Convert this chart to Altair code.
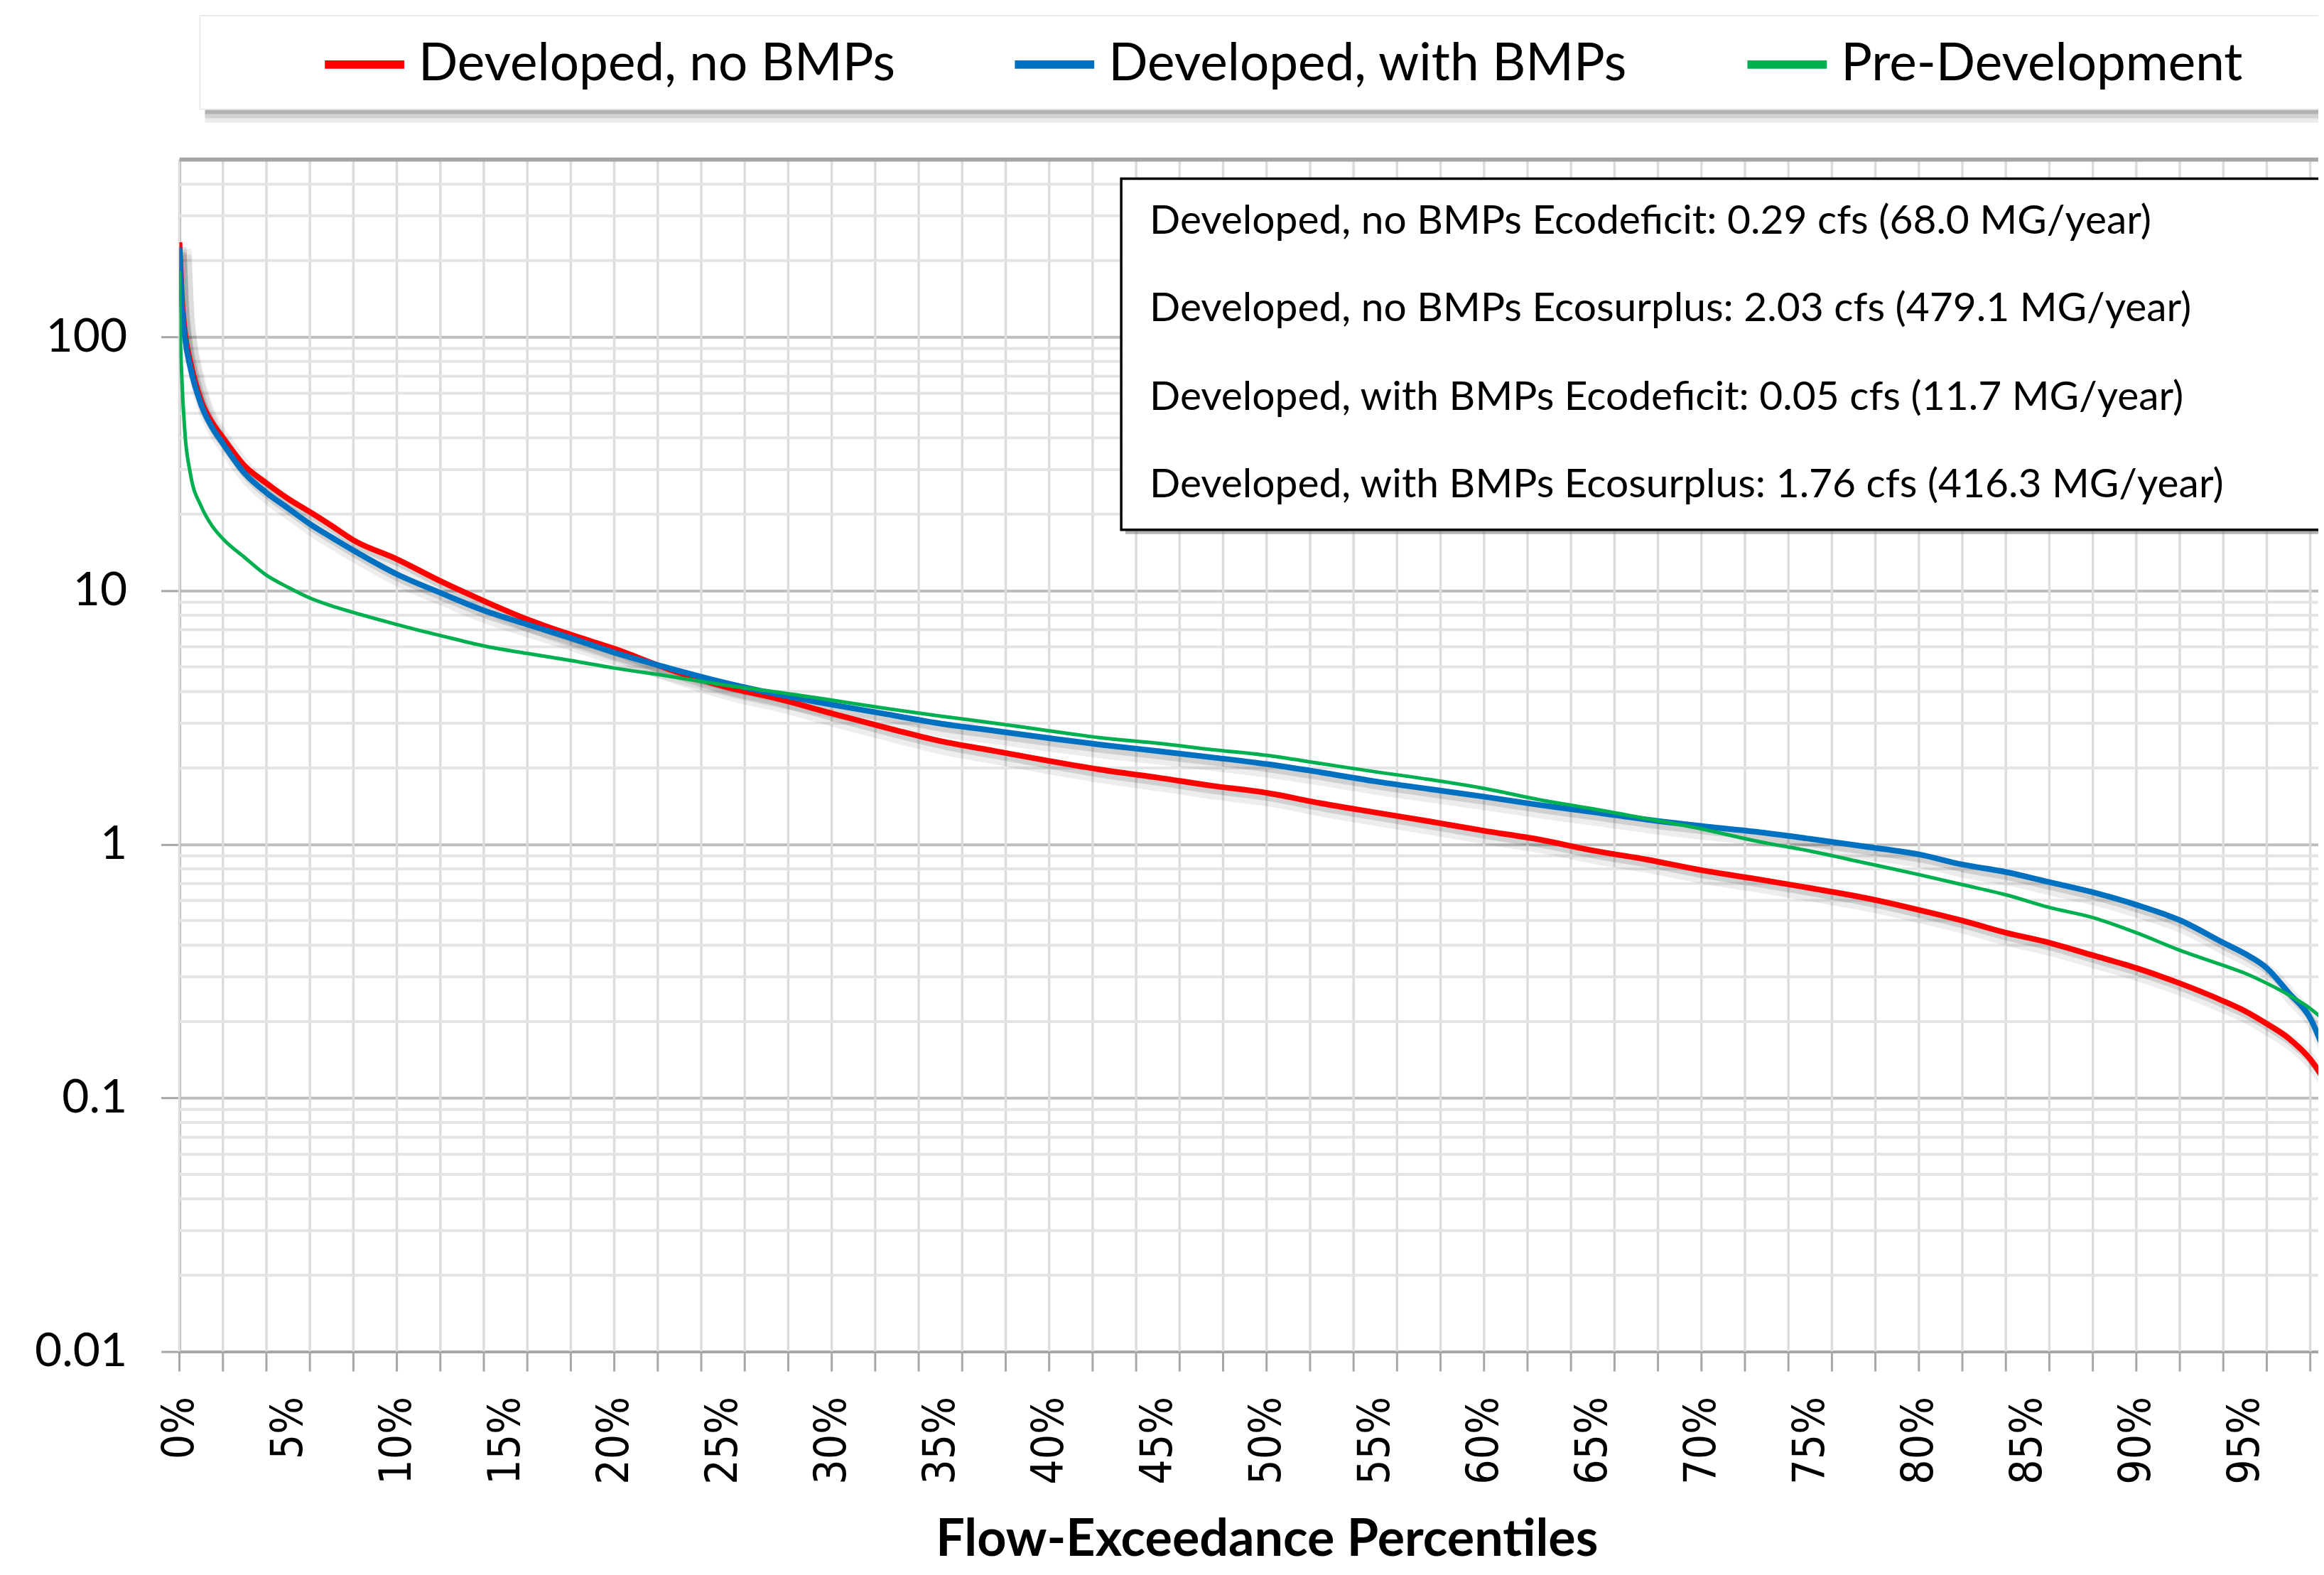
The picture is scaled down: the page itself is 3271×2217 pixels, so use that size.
import altair as alt
import pandas as pd

# ---------------- data ----------------
SERIES = ["Developed, no BMPs", "Developed, with BMPs", "Pre-Development"]
COLORS = ["#FF0000", "#0070C0", "#00B050"]

PCT = [0, 0.05, 0.1, 0.25, 0.5,
       1, 1.5, 2, 3, 4, 5, 6, 7, 8,
       10, 12, 14, 16, 18, 20,
       22.5, 25, 27.5, 30, 32.5, 35, 37.5, 40, 42.5, 45, 47.5, 50,
       52.5, 55, 57.5, 60, 62.5, 65, 67.5, 70, 72.5, 75, 77.5, 80,
       82, 84, 86, 88, 90, 92, 94, 95, 96, 97, 98, 98.7]

RED = [236, 190, 150, 105, 80,
       56, 46, 40, 31, 26.5, 23, 20.4, 18, 15.8,
       13.3, 10.9, 9.1, 7.7, 6.7, 5.9,
       4.9, 4.2, 3.75, 3.28, 2.88, 2.55, 2.33, 2.13, 1.96, 1.83, 1.70, 1.595,
       1.45, 1.335, 1.23, 1.13, 1.045, 0.945, 0.87, 0.79, 0.73, 0.672, 0.615, 0.551,
       0.50, 0.448, 0.409, 0.365, 0.325, 0.283, 0.241, 0.22, 0.196, 0.172, 0.142, 0.116]

BLUE = [225, 180, 140, 100, 76,
        54, 44, 38, 29, 24.3, 21.1, 18.3, 16.2, 14.4,
        11.6, 9.8, 8.35, 7.35, 6.5, 5.7,
        4.95, 4.35, 3.9, 3.55, 3.26, 2.99, 2.80, 2.62, 2.46, 2.33, 2.2, 2.07,
        1.92, 1.77, 1.65, 1.54, 1.43, 1.34, 1.25, 1.18, 1.12, 1.05, 0.98, 0.912,
        0.832, 0.777, 0.709, 0.647, 0.577, 0.502, 0.409, 0.37, 0.325, 0.26, 0.206, 0.149]

GREEN = [182, 95, 72, 42, 29,
         21.5, 18, 16, 13.5, 11.5, 10.3, 9.35, 8.7, 8.2,
         7.35, 6.65, 6.05, 5.65, 5.3, 4.95,
         4.6, 4.25, 3.98, 3.7, 3.43, 3.2, 3.0, 2.8, 2.62, 2.5, 2.36, 2.24,
         2.08, 1.93, 1.8, 1.66, 1.5, 1.38, 1.26, 1.15, 1.03, 0.94, 0.845, 0.759,
         0.693, 0.632, 0.563, 0.514, 0.448, 0.382, 0.333, 0.31, 0.283, 0.255, 0.225, 0.201]

X_LABEL_VALUES = list(range(0, 100, 5))
X_GRID_VALUES = list(range(0, 100, 2))
Y_LABEL_VALUES = [0.01, 0.1, 1, 10, 100]
Y_MINOR_VALUES = [m * 10.0 ** k for k in range(-2, 2) for m in range(2, 10)] + [200, 300, 400]
Y_MIN, Y_MAX = 0.01, 500

X_TITLE = "Flow-Exceedance Percentiles"
NOTES = [
    "Developed, no BMPs Ecodeficit: 0.29 cfs (68.0 MG/year)",
    "Developed, no BMPs Ecosurplus: 2.03 cfs (479.1 MG/year)",
    "Developed, with BMPs Ecodeficit: 0.05 cfs (11.7 MG/year)",
    "Developed, with BMPs Ecosurplus: 1.76 cfs (416.3 MG/year)",
]

# ---------------- layout ----------------
W, H = 3016, 1681
X_MAX = 98.37
PAD = {"left": 245, "top": 215, "right": 0, "bottom": 300}
CAL = "Lato"

rows = []
for name, vals in zip(SERIES, [RED, BLUE, GREEN]):
    for p, v in zip(PCT, vals):
        rows.append({"pct": p, "flow": v, "series": name})
df = pd.DataFrame(rows)

x_scale = alt.Scale(domain=[0, X_MAX], nice=False, zero=False)
y_scale = alt.Scale(type="log", domain=[Y_MIN, Y_MAX], nice=False)
color_scale = alt.Scale(domain=SERIES, range=COLORS)

x_axis = alt.Axis(
    values=X_LABEL_VALUES, labelExpr="datum.value + '%'", labelAngle=270,
    labelFont="DejaVu Sans Condensed", labelFontSize=62, labelColor="#000000",
    labelPadding=63, labelFlush=False, labelOverlap=False,
    ticks=False, grid=False, domainColor="#A6A6A6", domainWidth=4,
    title=X_TITLE, titleFont=CAL, titleFontSize=72, titleFontWeight="bold",
    titleColor="#000000", titleX=1533, titleY=287, titleBaseline="alphabetic",
)
y_axis = alt.Axis(
    values=Y_LABEL_VALUES, format="~g", labelFont=CAL, labelFontSize=66,
    labelColor="#000000", labelPadding=48, labelFlush=False, labelOverlap=False,
    tickSize=26, tickColor="#A6A6A6", tickWidth=3,
    domainColor="#A6A6A6", domainWidth=4,
    grid=True, gridColor="#BDBDBD", gridWidth=4, title=None,
)
legend = alt.Legend(
    orient="none", legendX=199, legendY=-196, direction="horizontal", title=None,
    symbolType="stroke", symbolSize=12544, symbolStrokeWidth=12,
    labelFont=CAL, labelFontSize=73, labelColor="#000000", labelOffset=14,
    columnPadding=144, padding=0, labelLimit=0,
)

X = alt.X("pct:Q", scale=x_scale, axis=x_axis)
Y = alt.Y("flow:Q", scale=y_scale, axis=y_axis)

xgrid_df = pd.DataFrame({"g": X_GRID_VALUES})
ygrid_df = pd.DataFrame({"m": Y_MINOR_VALUES})
top_df = pd.DataFrame({"v": [Y_MAX]})
one = pd.DataFrame({"k": [0]})

vgrid = alt.Chart(xgrid_df).mark_rule(color="#DCDCDC", strokeWidth=3.5).encode(
    x=alt.X("g:Q", scale=x_scale, axis=x_axis), y=alt.value(0), y2=alt.value(H))
hminor = alt.Chart(ygrid_df).mark_rule(color="#E4E4E4", strokeWidth=4).encode(
    y=alt.Y("m:Q", scale=y_scale, axis=y_axis), x=alt.value(0), x2=alt.value(W))
xticks = alt.Chart(xgrid_df).mark_rule(color="#A6A6A6", strokeWidth=3).encode(
    x=alt.X("g:Q", scale=x_scale, axis=x_axis), y=alt.value(H), y2=alt.value(H + 28))
topline = alt.Chart(top_df).mark_rule(color="#A6A6A6", strokeWidth=6).encode(
    y=alt.Y("v:Q", scale=y_scale, axis=y_axis), x=alt.value(0), x2=alt.value(W))

shadow_src = alt.Chart(df).transform_filter(
    alt.FieldOneOfPredicate(field="series", oneOf=SERIES[:2]))
shadow1 = shadow_src.mark_line(color="#000000", opacity=0.07, strokeWidth=20,
                               xOffset=7, yOffset=10, clip=True, strokeJoin="round",
                               interpolate="monotone").encode(
    x=X, y=Y, detail="series:N")
shadow2 = shadow_src.mark_line(color="#000000", opacity=0.12, strokeWidth=10,
                               xOffset=5, yOffset=7, clip=True, strokeJoin="round",
                               interpolate="monotone").encode(
    x=X, y=Y, detail="series:N")

widths = [8, 8, 5]
lines = []
for name, sw in zip(SERIES, widths):
    lines.append(
        alt.Chart(df).transform_filter(alt.datum.series == name)
        .mark_line(strokeWidth=sw, clip=True, strokeJoin="round", interpolate="monotone")
        .encode(x=X, y=Y, color=alt.Color("series:N", scale=color_scale, legend=legend))
    )

# legend frame
leg_shadows = [
    alt.Chart(one).mark_rect(fill=c, opacity=o).encode(
        x=alt.value(36), x2=alt.value(W), y=alt.value(y1), y2=alt.value(y2))
    for c, o, y1, y2 in [("#A8A8A8", 0.9, -71, -64), ("#C6C6C6", 0.8, -64, -58), ("#E6E6E6", 0.8, -58, -52)]
]
leg_box = alt.Chart(one).mark_rect(fill="white", stroke="#EBEBEB", strokeWidth=2).encode(
    x=alt.value(29), x2=alt.value(W + 20), y=alt.value(-203), y2=alt.value(-71))

# annotation box
ann_shadow = alt.Chart(one).mark_rect(fill="#808080", opacity=0.6).encode(
    x=alt.value(1334), x2=alt.value(W + 20), y=alt.value(33), y2=alt.value(528))
ann_box = alt.Chart(one).mark_rect(fill="white", stroke="#000000", strokeWidth=3.5).encode(
    x=alt.value(1328), x2=alt.value(W + 20), y=alt.value(27), y2=alt.value(522))
ann_texts = [
    alt.Chart(one).mark_text(align="left", baseline="middle", font=CAL, fontSize=57,
                             color="#000000").encode(
        x=alt.value(1368), y=alt.value(yy), text=alt.value(t))
    for t, yy in zip(NOTES, [88, 211, 336, 459])
]

chart = alt.layer(
    vgrid, hminor, topline, xticks, shadow1, shadow2, *lines,
    *leg_shadows, leg_box, ann_shadow, ann_box, *ann_texts,
).properties(
    width=W, height=H, padding=PAD,
    autosize=alt.AutoSizeParams(type="none"), background="white",
).configure_view(stroke=None)

chart.save("out.html", embed_options={"renderer": "svg", "actions": False})
